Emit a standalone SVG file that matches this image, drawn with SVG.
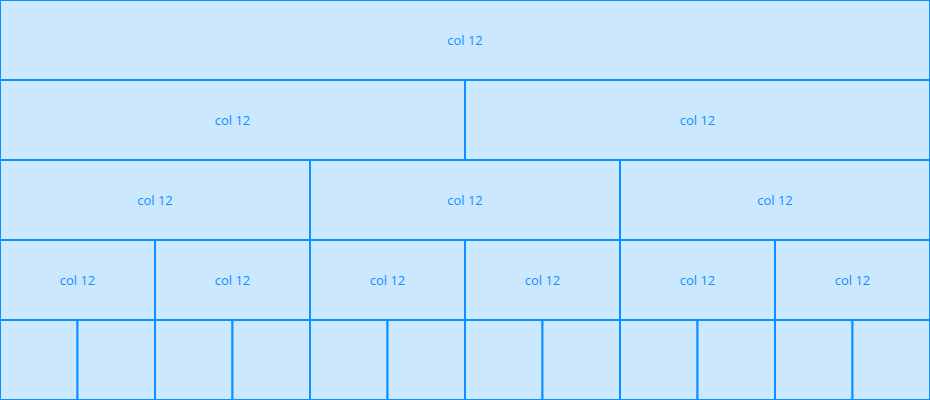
<svg xmlns="http://www.w3.org/2000/svg" width="930" height="400" viewBox="0 0 930 400">
<style>
rect{fill:#cce8ff;stroke:#1090ff;stroke-width:2}
text{font-family:"Open Sans","Liberation Sans",sans-serif;font-size:13px;fill:#1090ff;text-anchor:middle;dominant-baseline:central}
</style>
<g id="row1">
<g id="r1c1"><rect x="0" y="0" width="930" height="80"/><text x="465" y="40">col 12</text></g>
</g>
<g id="row2">
<g id="r2c1"><rect x="0" y="80" width="465" height="80"/><text x="232.5" y="120">col 12</text></g>
<g id="r2c2"><rect x="465" y="80" width="465" height="80"/><text x="697.5" y="120">col 12</text></g>
</g>
<g id="row3">
<g id="r3c1"><rect x="0" y="160" width="310" height="80"/><text x="155" y="200">col 12</text></g>
<g id="r3c2"><rect x="310" y="160" width="310" height="80"/><text x="465" y="200">col 12</text></g>
<g id="r3c3"><rect x="620" y="160" width="310" height="80"/><text x="775" y="200">col 12</text></g>
</g>
<g id="row4">
<g id="r4c1"><rect x="0" y="240" width="155" height="80"/><text x="77.5" y="280">col 12</text></g>
<g id="r4c2"><rect x="155" y="240" width="155" height="80"/><text x="232.5" y="280">col 12</text></g>
<g id="r4c3"><rect x="310" y="240" width="155" height="80"/><text x="387.5" y="280">col 12</text></g>
<g id="r4c4"><rect x="465" y="240" width="155" height="80"/><text x="542.5" y="280">col 12</text></g>
<g id="r4c5"><rect x="620" y="240" width="155" height="80"/><text x="697.5" y="280">col 12</text></g>
<g id="r4c6"><rect x="775" y="240" width="155" height="80"/><text x="852.5" y="280">col 12</text></g>
</g>
<g id="row5">
<g id="r5c1"><rect x="0" y="320" width="77.5" height="80"/></g>
<g id="r5c2"><rect x="77.5" y="320" width="77.5" height="80"/></g>
<g id="r5c3"><rect x="155" y="320" width="77.5" height="80"/></g>
<g id="r5c4"><rect x="232.5" y="320" width="77.5" height="80"/></g>
<g id="r5c5"><rect x="310" y="320" width="77.5" height="80"/></g>
<g id="r5c6"><rect x="387.5" y="320" width="77.5" height="80"/></g>
<g id="r5c7"><rect x="465" y="320" width="77.5" height="80"/></g>
<g id="r5c8"><rect x="542.5" y="320" width="77.5" height="80"/></g>
<g id="r5c9"><rect x="620" y="320" width="77.5" height="80"/></g>
<g id="r5c10"><rect x="697.5" y="320" width="77.5" height="80"/></g>
<g id="r5c11"><rect x="775" y="320" width="77.5" height="80"/></g>
<g id="r5c12"><rect x="852.5" y="320" width="77.5" height="80"/></g>
</g>
</svg>
